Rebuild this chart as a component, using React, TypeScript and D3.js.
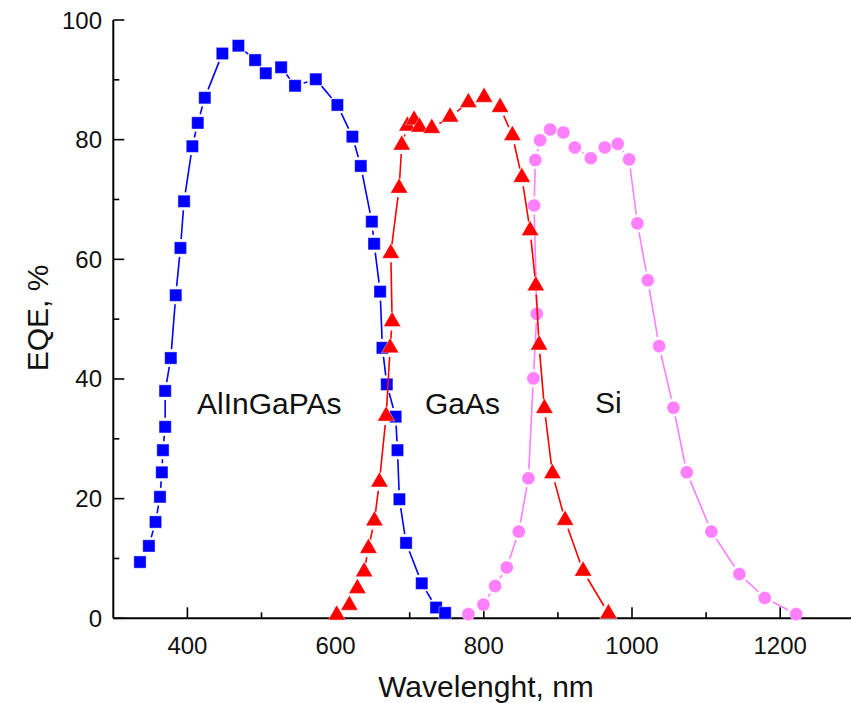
import React from "react";
import * as d3 from "d3";

// AlInGaPAs sub-cell
const wlAlInGaPAs = [336, 348, 357, 363, 365.5, 367, 370, 370, 377.6, 384.3, 390.6, 395.5, 406.7, 414, 423.5, 447.2, 468.8, 491.4, 505.8, 526.5, 545.3, 573.3, 602.4, 622.7, 634, 648.9, 652, 660.1, 663.2, 669.1, 681, 683.5, 686.1, 695.1, 716.3, 735.6, 747.8];
const eqeAlInGaPAs = [9.4, 12.1, 16.1, 20.3, 24.4, 28.1, 32.0, 38.0, 43.5, 54.0, 61.9, 69.7, 78.9, 82.8, 87.0, 94.4, 95.7, 93.3, 91.1, 92.1, 89.0, 90.1, 85.8, 80.5, 75.6, 66.3, 62.6, 54.6, 45.2, 39.1, 33.7, 28.1, 19.9, 12.6, 5.85, 1.8, 0.9];

// GaAs sub-cell
const wlGaAs = [601.6, 618.6, 629.4, 638.5, 644.3, 652.4, 659.1, 668.2, 673.6, 676.3, 674.5, 685.7, 689.3, 696.9, 705.9, 713.1, 729.8, 754.5, 779.2, 800.4, 822, 838.6, 851.3, 862.5, 870.2, 874.6, 881.8, 892.6, 909.7, 934, 968.2];
const eqeGaAs = [0.55, 2.2, 5.0, 7.8, 11.7, 16.3, 22.8, 33.8, 45.2, 49.6, 61.0, 71.9, 79.1, 82.3, 83.3, 82.1, 81.9, 83.8, 86.2, 87.1, 85.4, 80.7, 73.7, 64.8, 55.6, 45.7, 35.1, 24.2, 16.4, 7.9, 0.8];

// Si sub-cell
const wlSi = [779.2, 799.5, 815.3, 831, 847.2, 860.2, 866.9, 871.5, 867.9, 869.6, 876, 889.5, 907.4, 922.8, 944.4, 963.3, 980.8, 996.1, 1007.3, 1021.3, 1036.6, 1055.9, 1073.9, 1107.1, 1144.9, 1179.2, 1221.5];
const eqeSi = [0.7, 2.3, 5.4, 8.5, 14.5, 23.4, 40.1, 50.9, 69.0, 76.6, 79.9, 81.7, 81.2, 78.7, 76.9, 78.7, 79.3, 76.7, 66.0, 56.5, 45.5, 35.2, 24.4, 14.5, 7.4, 3.4, 0.7];

const xMajorTicks = [400, 600, 800, 1000, 1200];
const xMinorTicks = [500, 700, 900, 1100];
const yMajorTicks = [0, 20, 40, 60, 80, 100];
const yMinorTicks = [10, 30, 50, 70, 90];

const W = 851;
const H = 703;
const FONT = "'Liberation Sans', Arial, sans-serif";

const x = d3.scaleLinear().domain([300, 1300]).range([113.3, 854.3]);
const y = d3.scaleLinear().domain([0, 100]).range([618.3, 20]);

type Pt = [number, number];

// connecting segments with a small gap around each symbol
function gappedSegments(pts: Pt[], gap: number) {
  const segs: { x1: number; y1: number; x2: number; y2: number }[] = [];
  for (let i = 0; i < pts.length - 1; i++) {
    const [ax, ay] = pts[i];
    const [bx, by] = pts[i + 1];
    const dx = bx - ax;
    const dy = by - ay;
    const len = Math.hypot(dx, dy);
    if (len <= 2 * gap + 1) continue;
    const ux = dx / len;
    const uy = dy / len;
    segs.push({ x1: ax + ux * gap, y1: ay + uy * gap, x2: bx - ux * gap, y2: by - uy * gap });
  }
  return segs;
}

function Series({ xs, ys, color, shape }: { xs: number[]; ys: number[]; color: string; shape: "square" | "triangle" | "circle" }) {
  const pts: Pt[] = xs.map((v, i) => [x(v), y(ys[i])]);
  const segs = gappedSegments(pts, 9);
  const sym =
    shape === "square"
      ? d3.symbol(d3.symbolSquare, 150)()
      : shape === "triangle"
      ? d3.symbol(d3.symbolTriangle, 130)()
      : d3.symbol(d3.symbolCircle, 135)();
  return (
    <g>
      {segs.map((s, i) => (
        <line key={i} x1={s.x1} y1={s.y1} x2={s.x2} y2={s.y2} stroke={color} strokeWidth={1.6} />
      ))}
      {pts.map(([px, py], i) => (
        <path key={i} d={sym || ""} transform={`translate(${px},${py})`} fill={color} stroke="#ffffff" strokeOpacity={0.5} strokeWidth={0.8} />
      ))}
    </g>
  );
}

export default function App() {
  const x0 = x.range()[0];
  const y0 = y(0);
  return (
    <svg width={W} height={H} style={{ position: "absolute", left: 0, top: 0, background: "#fff" }} fontFamily={FONT}>
      <rect width={W} height={H} fill="#fff" />

      {/* axes */}
      <line x1={x0} y1={y0} x2={W} y2={y0} stroke="#000" strokeWidth={2} />
      <line x1={x0} y1={y0} x2={x0} y2={y(100)} stroke="#000" strokeWidth={2} />

      {xMajorTicks.map((t) => (
        <g key={`xM${t}`}>
          <line x1={x(t)} x2={x(t)} y1={y0} y2={y0 - 11} stroke="#000" strokeWidth={1.6} />
          <text x={x(t)} y={654} textAnchor="middle" fontSize={24} fill="#111">
            {t}
          </text>
        </g>
      ))}
      {xMinorTicks.map((t) => (
        <line key={`xm${t}`} x1={x(t)} x2={x(t)} y1={y0} y2={y0 - 6} stroke="#000" strokeWidth={1.6} />
      ))}
      {yMajorTicks.map((t) => (
        <g key={`yM${t}`}>
          <line x1={x0} x2={x0 + 11} y1={y(t)} y2={y(t)} stroke="#000" strokeWidth={1.6} />
          <text x={102} y={y(t) + 8.5} textAnchor="end" fontSize={24} fill="#111">
            {t}
          </text>
        </g>
      ))}
      {yMinorTicks.map((t) => (
        <line key={`ym${t}`} x1={x0} x2={x0 + 6} y1={y(t)} y2={y(t)} stroke="#000" strokeWidth={1.6} />
      ))}

      {/* axis titles */}
      <text x={486} y={697} textAnchor="middle" fontSize={30} fill="#111">
        Wavelenght, nm
      </text>
      <text transform="translate(48,318) rotate(-90)" textAnchor="middle" fontSize={30} fill="#111">
        EQE, %
      </text>

      {/* data */}
      <Series xs={wlAlInGaPAs} ys={eqeAlInGaPAs} color="#0000ff" shape="square" />
      <Series xs={wlSi} ys={eqeSi} color="#ff80ff" shape="circle" />
      <Series xs={wlGaAs} ys={eqeGaAs} color="#ff0000" shape="triangle" />

      {/* curve labels */}
      <text x={197} y={414} fontSize={30} fill="#111">AlInGaPAs</text>
      <text x={425} y={414} fontSize={30} fill="#111">GaAs</text>
      <text x={595} y={413} fontSize={30} fill="#111">Si</text>
    </svg>
  );
}
